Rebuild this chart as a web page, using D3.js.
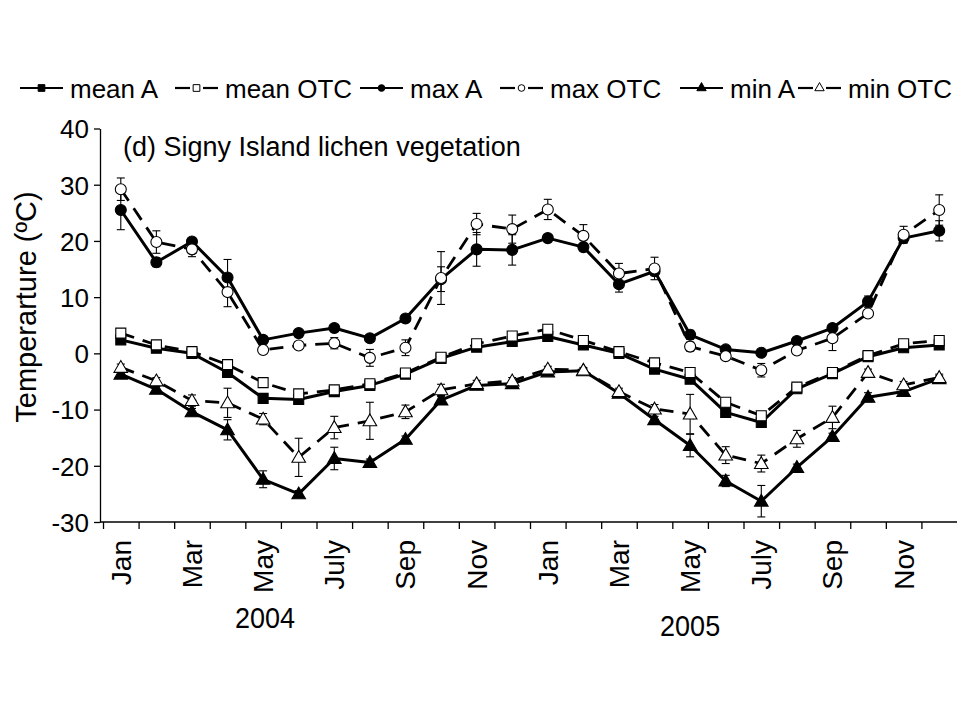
<!DOCTYPE html>
<html><head><meta charset="utf-8">
<script src="https://cdn.jsdelivr.net/npm/d3@7/dist/d3.min.js"></script>
<style>
html,body{margin:0;padding:0;background:#fff;}
svg{display:block;}
text{font-family:"Liberation Sans",Arial,sans-serif;fill:#000;}
</style></head>
<body>
<svg id="chart" width="960" height="720"></svg>
<script>
// ---- data ----
const monthNames = ["Jan","Feb","Mar","Apr","May","Jun","July","Aug","Sep","Oct","Nov","Dec",
                    "Jan","Feb","Mar","Apr","May","Jun","July","Aug","Sep","Oct","Nov","Dec"];
const shownMonths = ["Jan","Mar","May","July","Sep","Nov"];
const years = ["2004","2005"];
const yTicks = [-30,-20,-10,0,10,20,30,40];

const meanA   = [2.4, 0.9, 0.0, -3.4, -8.0, -8.2, -6.8, -5.7, -3.7, -0.9, 1.1, 2.1, 3.0, 1.5, 0.0, -2.8, -4.6, -10.5, -12.3, -6.3, -3.6, -0.6, 1.0, 1.5];
const meanOTC = [3.6, 1.5, 0.3, -2.0, -5.2, -7.2, -6.5, -5.4, -3.5, -0.7, 1.7, 3.1, 4.3, 2.3, 0.3, -1.7, -3.4, -8.7, -11.1, -6.0, -3.4, -0.4, 1.7, 2.3];
const maxA    = [25.5, 16.2, 19.9, 13.5, 2.4, 3.6, 4.5, 2.7, 6.2, 13.2, 18.5, 18.4, 20.5, 18.9, 12.3, 14.6, 3.3, 0.7, 0.1, 2.2, 4.5, 9.2, 20.5, 21.8];
const maxOTC  = [29.2, 19.8, 18.5, 10.9, 0.6, 1.4, 1.8, -0.8, 1.0, 13.4, 23.0, 22.1, 25.6, 20.9, 14.2, 15.1, 1.2, -0.5, -3.0, 0.5, 2.7, 7.1, 21.1, 25.5];
const minA    = [-3.7, -6.4, -10.4, -13.6, -22.4, -25.0, -18.7, -19.4, -15.3, -8.3, -5.7, -5.4, -3.3, -3.1, -7.1, -11.8, -16.4, -22.7, -26.3, -20.3, -14.8, -7.8, -6.8, -4.5];
const minOTC  = [-2.5, -4.9, -8.4, -8.8, -11.7, -18.5, -13.2, -12.0, -10.4, -6.5, -5.4, -4.9, -2.8, -3.0, -6.8, -9.9, -10.8, -18.1, -19.6, -15.2, -11.4, -3.4, -5.6, -4.3];

const meanA_err   = [0.3,0.3,0.3,0.3,0.3,0.3,0.3,0.3,0.3,0.3,0.3,0.3,0.3,0.3,0.3,0.3,0.3,0.3,0.3,0.3,0.3,0.3,0.3,0.3];
const meanOTC_err = [0.3,0.3,0.3,0.3,0.3,0.3,0.3,0.3,0.3,0.3,0.3,0.3,0.3,0.3,0.3,0.3,0.3,0.3,0.3,0.3,0.3,0.3,0.3,0.3];
const maxA_err    = [3.5, 0.8, 0.5, 3.2, 0.6, 0.5, 0.5, 0.5, 0.5, 2.2, 3.0, 2.7, 0.6, 0.6, 1.4, 0.8, 0.8, 0.5, 0.5, 0.5, 0.5, 1.0, 0.8, 1.8];
const maxOTC_err  = [2.0, 2.0, 1.3, 2.6, 0.6, 0.7, 1.0, 1.5, 1.4, 4.7, 1.9, 2.5, 1.8, 2.0, 1.8, 2.0, 0.8, 0.6, 1.2, 0.6, 2.2, 0.6, 1.5, 2.7];
const minA_err    = [0.5, 0.5, 0.6, 1.8, 1.5, 0.6, 2.0, 0.6, 0.6, 0.6, 0.5, 0.5, 0.4, 0.4, 0.5, 0.6, 2.0, 1.0, 2.8, 0.6, 0.6, 0.8, 0.5, 0.5];
const minOTC_err  = [0.6, 0.6, 1.0, 2.6, 1.0, 3.4, 2.0, 3.3, 1.2, 1.0, 0.6, 0.6, 0.5, 0.5, 0.6, 0.8, 3.5, 1.5, 1.5, 1.5, 2.0, 0.6, 0.6, 0.6];

const seriesNames = ["mean A","mean OTC","max A","max OTC","min A","min OTC"];
const title = "(d) Signy Island lichen vegetation";
const yLabel = "Temperarture (\u00BAC)";

// ---- build ----
const series = [
  {name:seriesNames[0], values:meanA,   err:meanA_err,   shape:"square",   filled:true,  dashed:false},
  {name:seriesNames[1], values:meanOTC, err:meanOTC_err, shape:"square",   filled:false, dashed:true},
  {name:seriesNames[2], values:maxA,    err:maxA_err,    shape:"circle",   filled:true,  dashed:false},
  {name:seriesNames[3], values:maxOTC,  err:maxOTC_err,  shape:"circle",   filled:false, dashed:true},
  {name:seriesNames[4], values:minA,    err:minA_err,    shape:"triangle", filled:true,  dashed:false},
  {name:seriesNames[5], values:minOTC,  err:minOTC_err,  shape:"triangle", filled:false, dashed:true}
];

const svg = d3.select("#chart");
const axisX0 = 100, plotTop = 128.5, plotBottom = 522;
const x = d3.scaleLinear().domain([0, monthNames.length]).range([103, 957]);
const y = d3.scaleLinear().domain([-30, 40]).range([plotBottom, plotTop]);
const cx = i => x(i + 0.5);

function symPath(shape, size) {
  const t = shape === "square" ? d3.symbolSquare : shape === "circle" ? d3.symbolCircle : d3.symbolTriangle;
  return d3.symbol().type(t).size(size)();
}
const plotSize = {square: 100, circle: 95, triangle: 80};
const legSize = {square: 45, circle: 35, triangle: 38};

// axes
const yAxis = d3.axisLeft(y).tickValues(yTicks).tickSize(6).tickSizeOuter(0).tickPadding(5)
  .tickFormat(d => String(d));
const gy = svg.append("g").attr("transform", `translate(${axisX0},0)`).call(yAxis);
gy.selectAll("text").style("font-size", "26px").attr("dy", "0.36em");
gy.select(".domain").attr("stroke-width", 1.3);
gy.selectAll(".tick line").attr("stroke-width", 1.3);

const xAxis = d3.axisBottom(x).tickValues(d3.range(0, monthNames.length)).tickSize(7).tickSizeOuter(0).tickFormat("");
const gx = svg.append("g").attr("transform", `translate(0,${plotBottom})`).call(xAxis);
gx.select(".domain").remove();
gx.selectAll(".tick line").attr("stroke-width", 1.3);
svg.append("line").attr("x1", axisX0).attr("x2", x.range()[1]).attr("y1", plotBottom).attr("y2", plotBottom)
  .attr("stroke", "#000").attr("stroke-width", 1.3);

// month labels
monthNames.forEach((m, i) => {
  if (shownMonths.indexOf(m) < 0 || i % 2 !== 0) return;
  svg.append("text")
    .attr("transform", `translate(${cx(i) + 10},540) rotate(-90)`)
    .attr("text-anchor", "end")
    .style("font-size", "28px")
    .text(m);
});
// year labels (slightly condensed, as in the reference)
[[years[0], 4.55, 628], [years[1], 16.5, 636]].forEach(([t, pos, yy]) => {
  svg.append("text").attr("transform", `translate(${x(pos)},${yy}) scale(0.9,1)`)
    .attr("text-anchor", "middle").style("font-size", "30px").text(t);
});

// y label
svg.append("text").attr("transform", "translate(36,307) rotate(-90)").attr("text-anchor", "middle")
  .style("font-size", "29px").text(yLabel);

// title
svg.append("text").attr("x", 123).attr("y", 156).style("font-size", "27px").text(title);

// error bars
const capW = 4;
series.forEach(s => {
  const g = svg.append("g").attr("stroke", "#000").attr("stroke-width", 1.1);
  s.values.forEach((v, i) => {
    const e = s.err[i];
    const xx = cx(i), y1 = y(v + e), y2 = y(v - e);
    g.append("line").attr("x1", xx).attr("x2", xx).attr("y1", y1).attr("y2", y2);
    g.append("line").attr("x1", xx - capW).attr("x2", xx + capW).attr("y1", y1).attr("y2", y1);
    g.append("line").attr("x1", xx - capW).attr("x2", xx + capW).attr("y1", y2).attr("y2", y2);
  });
});

// lines
const line = d3.line().x((d, i) => cx(i)).y(d => y(d));
series.forEach(s => {
  svg.append("path").datum(s.values).attr("d", line)
    .attr("fill", "none").attr("stroke", "#000")
    .attr("stroke-width", s.dashed ? 2.8 : 3)
    .attr("stroke-dasharray", s.dashed ? "14,9" : null)
    .attr("stroke-linejoin", "round");
});

// markers
series.forEach(s => {
  svg.append("g").selectAll("path").data(s.values).join("path")
    .attr("d", symPath(s.shape, plotSize[s.shape]))
    .attr("transform", (d, i) => `translate(${cx(i)},${y(d) + (s.shape === "triangle" ? 1 : 0)})`)
    .attr("fill", s.filled ? "#000" : "#fff")
    .attr("stroke", "#000").attr("stroke-width", 1.1);
});

// legend (text start positions as in the reference)
const legendTextX = [70, 225, 410, 550, 730, 848];
const ly = 88;
series.forEach((s, k) => {
  const tx = legendTextX[k];
  const lx = tx - 50;
  const g = svg.append("g");
  if (s.dashed) {
    g.append("line").attr("x1", lx).attr("x2", lx + 15).attr("y1", ly).attr("y2", ly).attr("stroke", "#000").attr("stroke-width", 2.2);
    g.append("line").attr("x1", lx + 28).attr("x2", lx + 43).attr("y1", ly).attr("y2", ly).attr("stroke", "#000").attr("stroke-width", 2.2);
  } else {
    g.append("line").attr("x1", lx).attr("x2", lx + 43).attr("y1", ly).attr("y2", ly).attr("stroke", "#000").attr("stroke-width", 2.2);
  }
  g.append("path").attr("d", symPath(s.shape, legSize[s.shape]))
    .attr("transform", `translate(${lx + 21.5},${ly})`)
    .attr("fill", s.filled ? "#000" : "#fff").attr("stroke", "#000").attr("stroke-width", 1);
  g.append("text").attr("x", tx).attr("y", ly + 10).style("font-size", "26px").text(s.name);
});
</script>
</body></html>
